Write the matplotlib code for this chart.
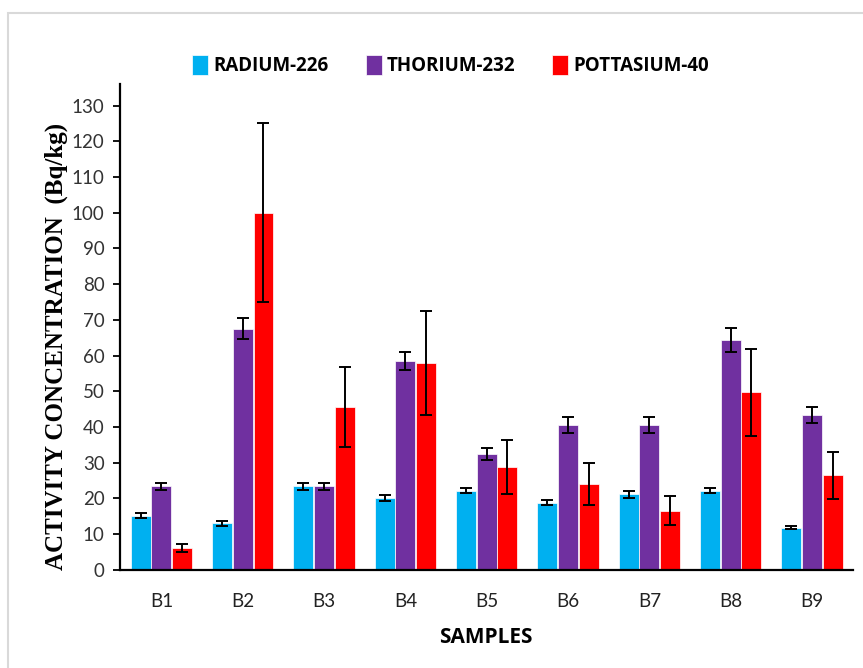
import numpy as np
import matplotlib.pyplot as plt
from matplotlib.patches import Rectangle

# Datos
muestras = ['B1', 'B2', 'B3', 'B4', 'B5', 'B6', 'B7', 'B8', 'B9']
series = ['RADIUM-226', 'THORIUM-232', 'POTTASIUM-40']

radio = [15.2, 13.0, 23.4, 20.1, 22.2, 18.8, 21.1, 22.2, 11.8]
radio_err = [0.7, 0.6, 1.0, 0.8, 0.8, 0.7, 1.0, 0.8, 0.5]

torio = [23.4, 67.5, 23.4, 58.4, 32.4, 40.5, 40.5, 64.3, 43.3]
torio_err = [1.0, 3.0, 1.0, 2.5, 1.7, 2.2, 2.2, 3.3, 2.2]

potasio = [6.1, 100.0, 45.6, 57.9, 28.7, 24.0, 16.6, 49.7, 26.5]
potasio_err = [1.0, 25.0, 11.3, 14.5, 7.6, 5.9, 4.1, 12.2, 6.6]

colores = ['#00B0F0', '#7030A0', '#FF0000']

fig = plt.figure(figsize=(8.63, 6.68), dpi=100)
ax = fig.add_axes([0.139, 0.147, 0.849, 0.727])

# Marco gris exterior
fig.patches.append(Rectangle((8 / 863, -0.1), 1.2, 1 - 13 / 668 + 0.1, transform=fig.transFigure,
                             fill=False, edgecolor='#D9D9D9', linewidth=1.5, zorder=0))

x = np.arange(len(muestras))
ancho = 0.245
desplaz = 0.255

valores = [radio, torio, potasio]
errores = [radio_err, torio_err, potasio_err]
for i, (vals, errs) in enumerate(zip(valores, errores)):
    ax.bar(x + (i - 1) * desplaz, vals, width=ancho, color=colores[i], edgecolor='white',
           linewidth=0.5, label=series[i], zorder=2,
           yerr=errs, error_kw=dict(ecolor='black', elinewidth=1.4, capsize=4.5, capthick=1.4))

ax.set_xlim(-0.51, 8.5)
ax.set_ylim(0, 136)
ax.set_yticks(np.arange(0, 131, 10))
ax.set_xticks(x)
ax.set_xticklabels(muestras, fontsize=13.5, family='Lato', color='#222222')
for t in ax.get_yticklabels():
    t.set_fontsize(13.5)
    t.set_family('Lato')
    t.set_color('#333333')

ax.tick_params(axis='x', length=0, pad=17)
ax.tick_params(axis='y', direction='out', length=5, width=1.3, pad=6)

for lado in ['top', 'right']:
    ax.spines[lado].set_visible(False)
ax.spines['left'].set_linewidth(1.6)
ax.spines['bottom'].set_linewidth(1.6)

ax.set_ylabel('ACTIVITY CONCENTRATION  (Bq/kg)', fontsize=18, fontweight='bold',
              family='Liberation Serif')
ax.yaxis.set_label_coords(-0.071, 0.46)
ax.set_xlabel('SAMPLES', fontsize=15, fontweight='bold', family='Open Sans', labelpad=12)

fig.legend(*ax.get_legend_handles_labels(), loc='center', bbox_to_anchor=(0.522, 0.902),
           ncol=3, frameon=False, prop=dict(family='Open Sans', weight='bold', size=13.5),
           handlelength=0.85, handleheight=1.3, handletextpad=0.25, columnspacing=2.0)

fig.savefig('out.png', dpi=100)
